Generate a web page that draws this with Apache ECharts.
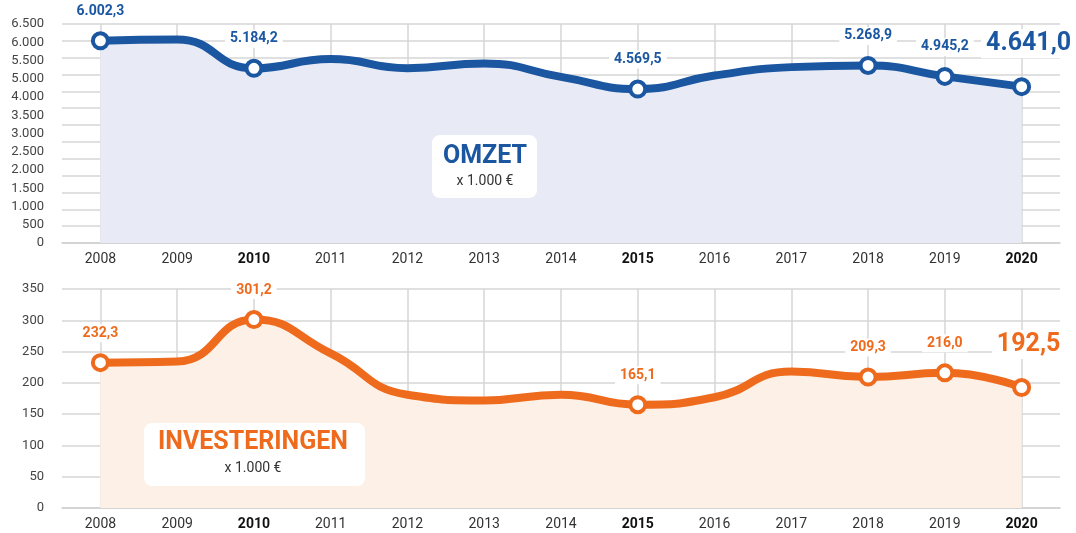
<!DOCTYPE html>
<html>
<head>
<meta charset="utf-8">
<script src="https://cdn.jsdelivr.net/npm/echarts@6/dist/echarts.min.js"></script>
<style>
html, body { margin: 0; padding: 0; background: #fff; }
#chart { width: 1076px; height: 533px; }
</style>
</head>
<body>
<div id="chart"></div>
<script>
// data
var years = ['2008', '2009', '2010', '2011', '2012', '2013', '2014', '2015', '2016', '2017', '2018', '2019', '2020'];
var boldYears = ['2010', '2015', '2020'];
var omzet = [6002.3, 6040, 5184.2, 5460, 5190, 5330, 4930, 4569.5, 4970, 5220, 5268.9, 4945.2, 4641.0];
var investeringen = [232.3, 234, 301.2, 247, 181, 172, 181, 165.1, 177, 218, 209.3, 216.0, 192.5];
var labeledYears = ['2008', '2010', '2015', '2018', '2019', '2020'];
// omzet tick labels as printed (4.500 is missing in the original)
var omzetTickLabels = ['0', '500', '1.000', '1.500', '2.000', '2.500', '3.000', '3.500', '4.000', '5.000', '5.500', '6.000', '6.500'];

var BLUE = '#1b56a1';
var ORANGE = '#ee6b1e';

function nl(v) {
    var parts = v.toFixed(1).split('.');
    return parts[0].replace(/\B(?=(\d{3})+(?!\d))/g, '.') + ',' + parts[1];
}

function buildData(values) {
    return values.map(function (v, i) {
        var item = { value: v, symbol: 'none' };
        if (labeledYears.indexOf(years[i]) >= 0) {
            item.symbol = 'circle';
            item.label = { show: true };
            if (i === values.length - 1) {
                item.label = { show: true, fontSize: 25, offset: [7, -8] };
            }
        }
        return item;
    });
}

function xAxisCfg(gridIndex) {
    return {
        type: 'category',
        gridIndex: gridIndex,
        data: years,
        boundaryGap: true,
        axisLine: { lineStyle: { color: '#cfcfcf', width: 1.5 } },
        axisTick: { show: false },
        splitLine: { show: true, alignWithLabel: true, lineStyle: { color: '#d6d6d6', width: 1.5 } },
        axisLabel: {
            margin: 9,
            fontFamily: 'Roboto',
            fontSize: 14,
            color: '#333',
            formatter: function (v) {
                return boldYears.indexOf(v) >= 0 ? '{b|' + v + '}' : v;
            },
            rich: { b: { fontFamily: 'Roboto', fontSize: 14, fontWeight: 'bold', color: '#111' } }
        }
    };
}

function seriesCfg(name, values, color, fill, xi, yi) {
    return {
        name: name,
        type: 'line',
        xAxisIndex: xi,
        yAxisIndex: yi,
        smooth: 0.5,
        data: buildData(values),
        symbolSize: 15,
        lineStyle: { color: color, width: 8 },
        itemStyle: { color: '#fff', borderColor: color, borderWidth: 4 },
        areaStyle: { color: fill, opacity: 1 },
        label: {
            show: false,
            position: 'top',
            distance: 11,
            fontFamily: 'Roboto',
            fontWeight: 'bold',
            fontSize: 14,
            color: color,
            backgroundColor: '#fff',
            padding: [2, 5],
            formatter: function (p) { return nl(p.value); }
        },
        z: 3
    };
}

var myChart = echarts.init(document.getElementById('chart'));
var option = {
    animation: false,
    grid: [
        { left: 62, right: 16, top: 24, height: 219 },
        { left: 62, right: 16, top: 289, height: 219 }
    ],
    xAxis: [xAxisCfg(0), xAxisCfg(1)],
    yAxis: [
        {
            type: 'value', gridIndex: 0, min: 0, max: 6500, interval: 500,
            axisLine: { show: false }, axisTick: { show: false },
            axisLabel: { show: false },
            splitLine: { lineStyle: { color: '#d6d6d6', width: 1.5 } }
        },
        {
            // printed labels of the omzet axis
            type: 'value', gridIndex: 0, min: 0, max: omzetTickLabels.length - 1, interval: 1,
            position: 'left',
            axisLine: { show: false }, axisTick: { show: false },
            splitLine: { show: false },
            axisLabel: {
                margin: 18,
                fontFamily: 'Roboto', fontSize: 13, color: '#444',
                formatter: function (v) { return omzetTickLabels[v]; }
            }
        },
        {
            type: 'value', gridIndex: 1, min: 0, max: 350, interval: 50,
            axisLine: { show: false }, axisTick: { show: false },
            axisLabel: { margin: 18, fontFamily: 'Roboto', fontSize: 13, color: '#444' },
            splitLine: { lineStyle: { color: '#d6d6d6', width: 1.5 } }
        }
    ],
    series: [
        seriesCfg('Omzet', omzet, BLUE, '#e8ebf5', 0, 0),
        seriesCfg('Investeringen', investeringen, ORANGE, '#fdf1e7', 1, 2)
    ],
    graphic: {
        elements: [
            { type: 'rect', x: 432, y: 135, z: 100, shape: { width: 105, height: 63, r: 8 }, style: { fill: '#ffffff' } },
            { type: 'text', x: 485, y: 144, z: 101, style: { text: 'OMZET', fill: BLUE, fontFamily: 'Roboto', fontWeight: 'bold', fontSize: 25, align: 'center' } },
            { type: 'text', x: 485, y: 174, z: 101, style: { text: 'x 1.000 €', fill: '#333', fontFamily: 'Roboto', fontSize: 14, align: 'center' } },
            { type: 'rect', x: 144, y: 423, z: 100, shape: { width: 221, height: 63, r: 8 }, style: { fill: '#ffffff' } },
            { type: 'text', x: 253, y: 430, z: 101, style: { text: 'INVESTERINGEN', fill: ORANGE, fontFamily: 'Roboto', fontWeight: 'bold', fontSize: 25, align: 'center' } },
            { type: 'text', x: 253, y: 461, z: 101, style: { text: 'x 1.000 €', fill: '#333', fontFamily: 'Roboto', fontSize: 14, align: 'center' } }
        ]
    }
};
myChart.setOption(option);
</script>
</body>
</html>
